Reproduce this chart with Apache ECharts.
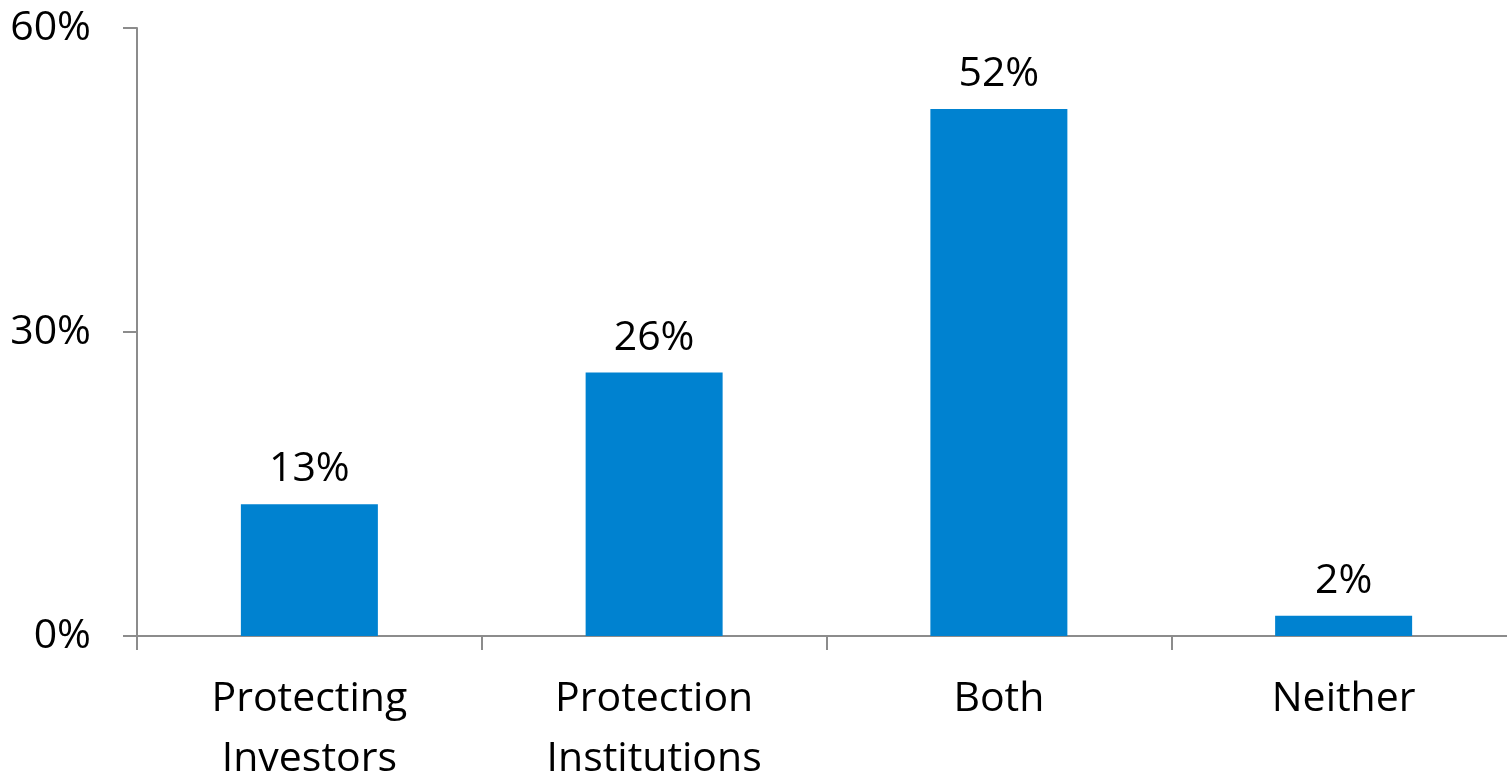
<!DOCTYPE html>
<html>
<head>
<meta charset="utf-8">
<script src="https://cdn.jsdelivr.net/npm/echarts@6/dist/echarts.min.js"></script>
<style>
  html, body { margin: 0; padding: 0; background: #fff; }
  #chart { width: 1507px; height: 775px; }
</style>
</head>
<body>
<div id="chart"></div>
<script>
const categories = ['Protecting\nInvestors', 'Protection\nInstitutions', 'Both', 'Neither'];
const values = [13, 26, 52, 2];
const yTicks = [0, 30, 60];

const font = '"Open Sans", "Liberation Sans", sans-serif';
const axisGrey = '#8c8c8c';

const chart = echarts.init(document.getElementById('chart'));
chart.setOption({
    animation: false,
    grid: { left: 137, top: 28, right: -9, bottom: 139, containLabel: false, outerBoundsMode: 'none' },
    xAxis: {
        type: 'category', data: categories,
        axisLine: { lineStyle: { color: axisGrey, width: 2 } },
        axisTick: { show: true, length: 14, lineStyle: { color: axisGrey, width: 2 } },
        axisLabel: { color: '#000', fontFamily: font, fontSize: 41, lineHeight: 60, margin: 33, interval: 0 }
    },
    yAxis: {
        type: 'value', min: yTicks[0], max: yTicks[yTicks.length - 1], interval: 30,
        axisLine: { show: true, lineStyle: { color: axisGrey, width: 2 } },
        axisTick: { show: true, length: 14, lineStyle: { color: axisGrey, width: 2 } },
        splitLine: { show: false },
        axisLabel: { color: '#000', fontFamily: font, fontSize: 41, margin: 46, formatter: v => v + '%' }
    },
    series: [{
        type: 'bar', data: values, barWidth: 137,
        itemStyle: { color: '#0082D0' },
        label: { show: true, position: 'top', distance: 14, color: '#000', fontFamily: font, fontSize: 41, formatter: p => p.value + '%' }
    }]
});
</script>
</body>
</html>
